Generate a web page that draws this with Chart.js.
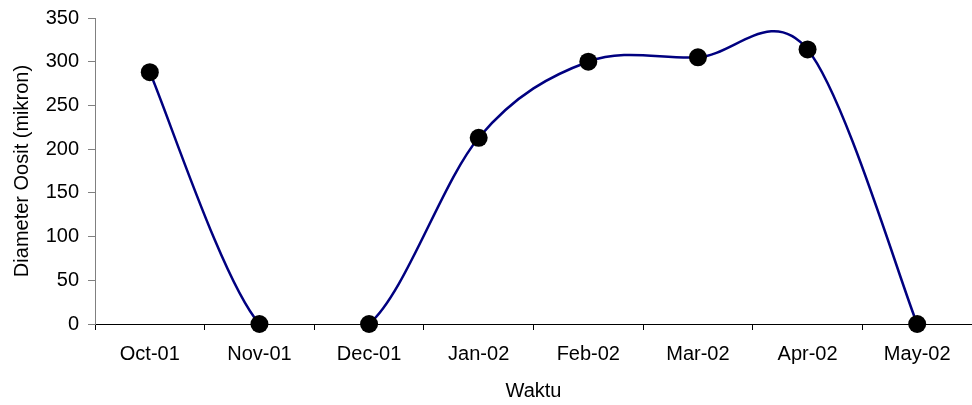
<!DOCTYPE html>
<html>
<head>
<meta charset="utf-8">
<script src="https://cdn.jsdelivr.net/npm/chart.js@4/dist/chart.umd.min.js"></script>
<style>
  html, body { margin: 0; padding: 0; background: #fff; }
  #wrap { width: 972px; height: 405px; }
</style>
</head>
<body>
<div id="wrap"><canvas id="c" width="972" height="405"></canvas></div>
<script>
// Monthly mean oocyte diameter
const months = ['Oct-01', 'Nov-01', 'Dec-01', 'Jan-02', 'Feb-02', 'Mar-02', 'Apr-02', 'May-02'];
const diameter = [288, 0, 0, 213, 300, 305, 314, 0];
const yTicks = [0, 50, 100, 150, 200, 250, 300, 350];

const FONT = "'Liberation Sans', Arial, sans-serif";
Chart.defaults.font.family = FONT;
Chart.defaults.color = '#000';

// Catmull-Rom style smoothing: each control point sits 1/6 of the
// neighbour-to-neighbour chord away from its point (spreadsheet-like curve).
const chordSmoothing = {
  id: 'chordSmoothing',
  beforeDatasetDraw(chart, args) {
    const meta = args.meta;
    if (!meta.dataset || !meta._dataset || !meta._dataset.smoothChord) return;
    const pts = meta.data;
    const n = pts.length;
    for (let i = 0; i < n; i++) {
      const p0 = pts[Math.max(i - 1, 0)];
      const p1 = pts[i];
      const p2 = pts[Math.min(i + 1, n - 1)];
      const dx = (p2.x - p0.x) / 6;
      const dy = (p2.y - p0.y) / 6;
      p1.cp1x = p1.x - dx;
      p1.cp1y = p1.y - dy;
      p1.cp2x = p1.x + dx;
      p1.cp2y = p1.y + dy;
    }
    meta.dataset._pointsUpdated = true;
    meta.dataset._path = undefined;
  }
};

new Chart(document.getElementById('c'), {
  type: 'line',
  data: {
    labels: months,
    datasets: [
      {
        // markers, drawn on top and never clipped
        data: diameter,
        showLine: false,
        pointRadius: 9,
        pointHoverRadius: 9,
        pointBackgroundColor: '#000',
        pointBorderWidth: 0,
        clip: false
      },
      {
        // smoothed line, clipped at the x axis
        data: diameter,
        smoothChord: true,
        borderColor: '#000080',
        borderWidth: 2.5,
        tension: 0.4,
        pointRadius: 0,
        fill: false,
        clip: { left: false, top: false, right: false, bottom: 1 }
      }
    ]
  },
  plugins: [chordSmoothing],
  options: {
    responsive: false,
    animation: false,
    devicePixelRatio: 1,
    elements: { line: { capBezierPoints: false } },
    layout: { autoPadding: false, padding: { top: 18, right: 0, bottom: 0, left: 0 } },
    plugins: { legend: { display: false }, tooltip: { enabled: false } },
    scales: {
      x: {
        offset: true,
        grid: { offset: true, drawOnChartArea: false, drawTicks: true, tickLength: 6, color: '#000' },
        border: { color: '#000', width: 1 },
        ticks: { font: { size: 20 }, padding: 12, maxRotation: 0, autoSkip: false, color: '#000' },
        title: { display: true, text: 'Waktu', font: { size: 20 }, padding: { top: 13, bottom: 2 }, color: '#000' },
        afterFit: s => { s.height = 81; s.paddingLeft = 0; s.paddingRight = 0; }
      },
      y: {
        min: 0,
        max: 350,
        afterBuildTicks: s => { s.ticks = yTicks.map(v => ({ value: v })); },
        grid: { drawOnChartArea: false, drawTicks: true, tickLength: 7, color: '#808080' },
        border: { color: '#808080', width: 1 },
        ticks: { font: { size: 20 }, padding: 9, color: '#000' },
        title: { display: true, text: 'Diameter Oosit (mikron)', font: { size: 20 }, padding: { top: 10, bottom: 10 }, color: '#000' },
        afterFit: s => { s.width = 95; s.paddingTop = 0; s.paddingBottom = 0; }
      }
    }
  }
});
</script>
</body>
</html>
